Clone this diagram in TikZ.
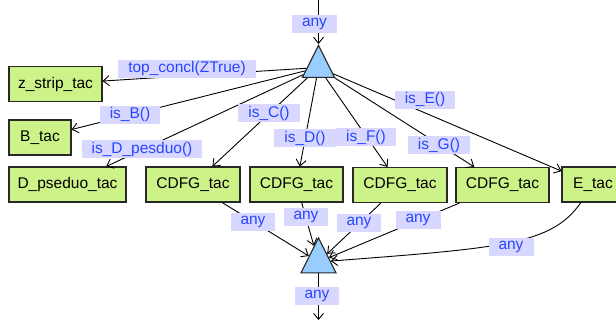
\documentclass[tikz,border=0pt]{standalone}
\usepackage{fontspec}
\setmainfont{Liberation Sans}
\usetikzlibrary{arrows.meta,shapes.geometric}
\definecolor{ngreen}{RGB}{205,242,135}
\definecolor{tblue}{RGB}{153,204,255}
\definecolor{lblbg}{RGB}{215,215,255}
\definecolor{lbltxt}{RGB}{40,70,255}
\definecolor{bord}{RGB}{40,40,40}
\begin{document}
\begin{tikzpicture}[x=1pt,y=-1pt,
  tac/.style={draw=bord, line width=1.1pt, fill=ngreen, minimum height=35pt, inner sep=0pt, font=\fontsize{15.5}{18}\selectfont},
  tri/.style={isosceles triangle, isosceles triangle stretches, shape border rotate=90, draw=bord, fill=tblue, inner sep=0pt, line width=1.1pt},
  lbl/.style={fill=lblbg, text=lbltxt, font=\fontsize{15.5}{18}\selectfont, inner xsep=10pt, inner ysep=0pt, minimum height=18pt},
  conn/.style={-{Straight Barb[length=6pt,width=10pt]}, line width=0.9pt, draw=black}
]
\useasboundingbox (0,0) rectangle (616,324);
% main nodes
\node[tri, minimum width=32pt, minimum height=32pt] (tt) at (318.5,67.5) {};
\node[tri, minimum width=35pt, minimum height=35pt] (bt) at (318.5,262) {};
\node[tac, minimum width=93pt] (z) at (55.5,84) {z\_strip\_tac};
\node[tac, minimum width=62pt] (b) at (40,137.5) {B\_tac};
\node[tac, minimum width=117pt] (d) at (67.5,184.5) {D\_pseduo\_tac};
\node[tac, minimum width=94pt] (c1) at (193,184.5) {CDFG\_tac};
\node[tac, minimum width=93pt] (c2) at (296.5,184.5) {CDFG\_tac};
\node[tac, minimum width=94pt] (c3) at (400,185) {CDFG\_tac};
\node[tac, minimum width=93pt] (c4) at (502.5,185) {CDFG\_tac};
\node[tac, minimum width=62pt] (e) at (593,184.5) {E\_tac};
\coordinate (src) at (318.5,-2);
\coordinate (sink) at (318.5,320);
% connectors
\draw[conn] (src) -- (tt);
\draw[conn] (tt) -- (z);
\draw[conn] (tt) -- (b);
\draw[conn] (tt) -- (d);
\draw[conn] (tt) -- (c1);
\draw[conn] (tt) -- (c2);
\draw[conn] (tt) -- (c3);
\draw[conn] (tt) -- (c4);
\draw[conn] (tt) -- (e);
\draw[conn] (c1) -- (bt);
\draw[conn] (c2) -- (bt);
\draw[conn] (c3) -- (bt);
\draw[conn] (c4) -- (bt);
\draw[conn] (e) .. controls (552,245) and (500,248) .. (bt);
\draw[conn] (bt) -- (sink);
% labels
\node[lbl] (l0) at (314.5,24) {any};
\node[lbl] (l1) at (187,68.5) {top\_concl(ZTrue)};
\node[lbl] (l2) at (130,114.5) {is\_B()};
\node[lbl] (l3) at (142,149) {is\_D\_pesduo()};
\node[lbl] (l4) at (269,113) {is\_C()};
\node[lbl] (l5) at (305,138) {is\_D()};
\node[lbl] (l6) at (366,137) {is\_F()};
\node[lbl] (l7) at (439,145) {is\_G()};
\node[lbl] (l8) at (425,99.5) {is\_E()};
\node[lbl] (l9) at (253,222) {any};
\node[lbl] (l10) at (306,216.5) {any};
\node[lbl] (l11) at (359,222.5) {any};
\node[lbl] (l12) at (418,220) {any};
\node[lbl] (l13) at (511,247) {any};
\node[lbl] (l14) at (317,296) {any};
\end{tikzpicture}
\end{document}
